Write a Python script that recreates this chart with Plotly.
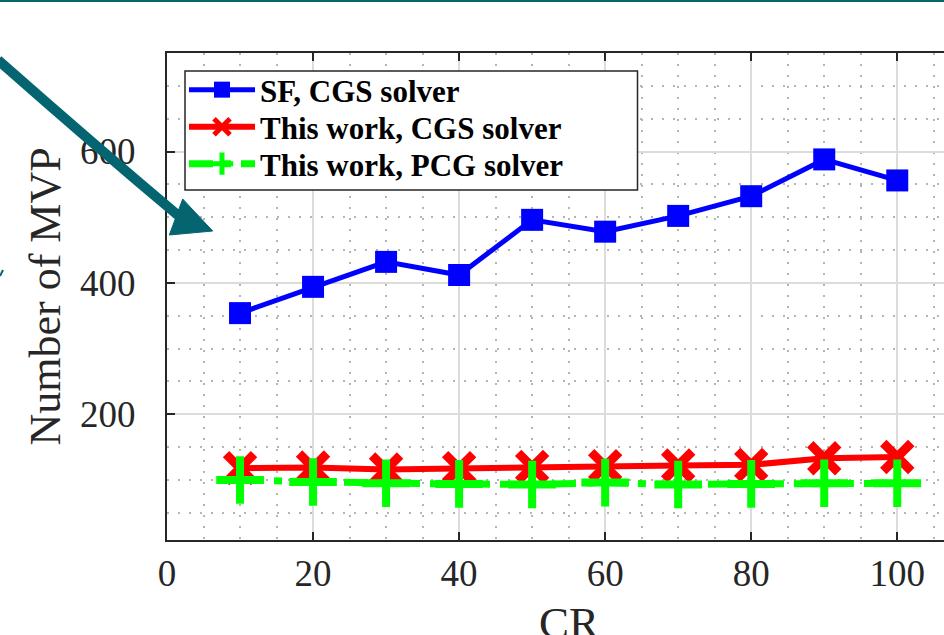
import plotly.graph_objects as go

cr = [10, 20, 30, 40, 50, 60, 70, 80, 90, 100]
sf_cgs = [354, 394, 432, 412, 496, 478, 502, 532, 588, 556]
tw_cgs = [118, 119, 116, 118, 120, 121, 122, 123, 133, 135]
tw_pcg = [100, 97, 95, 94, 93, 96, 93, 94, 95, 95]
x_ticks = [0, 20, 40, 60, 80, 100]
y_ticks = [200, 400, 600]
series_names = ["SF, CGS solver", "This work, CGS solver", "This work, PCG solver"]

W, H = 944, 635
L, R, T, B = 167, 0, 53, 95
PW, PH = W - L - R, H - T - B

def px(x):
    return (x - L) / PW

def py(y):
    return (H - B - y) / PH

FONT = "Liberation Serif, Times New Roman, serif"
TXT = "#262626"
TEAL = "#046570"

fig = go.Figure()
fig.add_trace(go.Scatter(
    x=cr, y=sf_cgs, name=series_names[0], mode="lines+markers", legend="legend",
    line=dict(color="#0000ff", width=5),
    marker=dict(symbol="square", size=22, color="#0000ff"),
))
fig.add_trace(go.Scatter(
    x=cr, y=tw_cgs, name=series_names[1], mode="lines+markers", legend="legend2",
    line=dict(color="#ff0000", width=6),
    marker=dict(symbol="x-thin", size=28, color="#ff0000",
                line=dict(color="#ff0000", width=9)),
))
fig.add_trace(go.Scatter(
    x=cr, y=tw_pcg, name=series_names[2], mode="lines+markers", legend="legend3",
    line=dict(color="#00ff00", width=7, dash="24px,10px,8px,10px"),
    marker=dict(symbol="cross-thin", size=34, color="#00ff00",
                line=dict(color="#00ff00", width=8)),
))

axis_common = dict(
    showline=True, linecolor=TXT, linewidth=2,
    ticks="inside", ticklen=8, tickwidth=2, tickcolor=TXT,
    showgrid=True, gridcolor="#dcdcdc", gridwidth=1.5,
    zeroline=False,
    tickfont=dict(family=FONT, size=37, color=TXT),
)

fig.update_xaxes(
    range=[0, 106.4], tickvals=x_ticks, mirror="ticks",
    minor=dict(dtick=5, tick0=0, showgrid=True, gridcolor="#b4b4b4",
               griddash="2px,9px", gridwidth=1.5, ticks=""),
    ticklabelstandoff=0,
    **axis_common,
)
fig.update_yaxes(
    range=[8.6, 750], tickvals=y_ticks,
    minor=dict(dtick=50, tick0=0, showgrid=True, gridcolor="#b4b4b4",
               griddash="2px,9px", gridwidth=1.5, ticks=""),
    ticklabelstandoff=22,
    **axis_common,
)

# legend frame
fig.add_shape(type="rect", xref="paper", yref="paper",
              x0=px(185), x1=px(637.5), y0=py(190), y1=py(71),
              fillcolor="white", line=dict(color=TXT, width=1.5), layer="above")

# teal decorations
fig.add_shape(type="line", xref="paper", yref="paper",
              x0=px(0), x1=px(W), y0=py(1), y1=py(1),
              line=dict(color=TEAL, width=2))
fig.add_shape(type="path", xref="paper", yref="paper",
              path=f"M {px(-2)},{py(60)} Q {px(92)},{py(143)} {px(180)},{py(217)}",
              line=dict(color=TEAL, width=10))
fig.add_shape(type="path", xref="paper", yref="paper",
              path=f"M {px(182.7)},{py(199)} L {px(212.7)},{py(231)} L {px(169.3)},{py(235)} Z",
              fillcolor=TEAL, line=dict(color=TEAL, width=1))
fig.add_shape(type="line", xref="paper", yref="paper",
              x0=px(0), x1=px(3), y0=py(276), y1=py(270),
              line=dict(color=TEAL, width=2))

fig.add_annotation(text="Number of MVP", xref="paper", yref="paper",
                   x=px(45), y=0.5, textangle=-90, showarrow=False,
                   xanchor="center", yanchor="middle",
                   font=dict(family=FONT, size=44, color=TXT))
fig.add_annotation(text="CR", xref="x", yref="paper",
                   x=55, y=py(596), showarrow=False,
                   xanchor="center", yanchor="top",
                   font=dict(family=FONT, size=45, color=TXT))

leg_common = dict(
    xanchor="left", yanchor="middle",
    bgcolor="rgba(0,0,0,0)", borderwidth=0,
    font=dict(family=FONT, size=31, color="black", weight="bold"),
    itemwidth=66,
)
row_y = [90, 127, 164]
fig.update_layout(
    width=W, height=H,
    margin=dict(l=L, r=R, t=T, b=B, pad=0),
    paper_bgcolor="white", plot_bgcolor="white",
    showlegend=True,
    legend=dict(x=px(184), y=py(row_y[0]), **leg_common),
    legend2=dict(x=px(184), y=py(row_y[1]), **leg_common),
    legend3=dict(x=px(184), y=py(row_y[2]), **leg_common),
)

fig.write_html("out.html", config={"displayModeBar": False},
               post_script="document.body.style.margin='0';")
